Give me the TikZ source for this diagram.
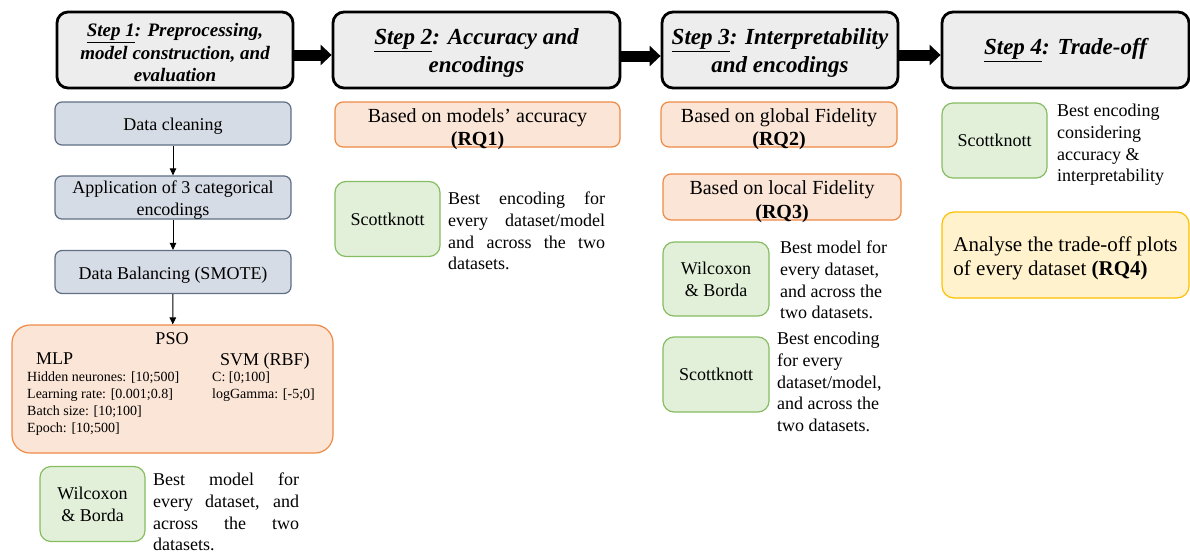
\documentclass[tikz,border=0pt]{standalone}
\usepackage{fontspec}
\setmainfont{Liberation Serif}
\usepackage{xcolor}
\usetikzlibrary{arrows.meta,positioning}

\definecolor{stepfill}{HTML}{EDEDED}
\definecolor{prepfill}{HTML}{D6DCE5}
\definecolor{prepline}{HTML}{5F6F86}
\definecolor{rqfill}{HTML}{FBE5D6}
\definecolor{rqline}{HTML}{EF8A45}
\definecolor{testfill}{HTML}{E2F0D9}
\definecolor{testline}{HTML}{86BC62}
\definecolor{tofill}{HTML}{FFF2CC}
\definecolor{toline}{HTML}{FFC000}

\newcommand{\titlefont}{\fontsize{23}{27.5}\selectfont\bfseries\itshape}
\newcommand{\titlefontsm}{\fontsize{19}{22.5}\selectfont\bfseries\itshape}
\newcommand{\bodyfont}{\fontsize{18}{21.7}\selectfont}
\newcommand{\rqfont}{\fontsize{20}{23.5}\selectfont}
\newcommand{\parfont}{\fontsize{14}{17}\selectfont}
\newcommand{\lift}[1]{\rule{0pt}{#1}}

\begin{document}
\begin{tikzpicture}[
  x=1pt, y=-1pt,
  stepbox/.style={draw, line width=2.8pt, rounded corners=11pt, fill=stepfill,
                  minimum height=76pt, inner sep=2pt, align=center, font=\titlefont},
  prep/.style={draw=prepline, fill=prepfill, line width=1.2pt, rounded corners=7pt,
               minimum width=236pt, minimum height=43pt, inner sep=0pt,
               align=center, font=\bodyfont},
  rq/.style={draw=rqline, fill=rqfill, line width=1.2pt, rounded corners=8pt,
             minimum height=45pt, inner sep=0pt, align=center, font=\rqfont,
             text height=42pt, text depth=0pt},
  test/.style={draw=testline, fill=testfill, line width=1.2pt, rounded corners=11pt,
               minimum width=105pt, minimum height=75pt, inner sep=0pt,
               align=center, font=\bodyfont},
  desc/.style={anchor=north west, inner sep=0pt, font=\bodyfont},
  param/.style={anchor=north west, inner sep=0pt, align=left, font=\parfont},
  bigarr/.style={-{Triangle[length=11pt,width=20pt]}, line width=11pt},
  arr/.style={-{Triangle[length=7pt,width=6.5pt]}, line width=0.9pt}
]
\useasboundingbox (0,0) rectangle (1190,554);

\node[stepbox, minimum width=236pt, font=\titlefontsm] (step1) at (175,50)
  {\lift{19pt}\underline{Step 1}: Preprocessing,\\ model construction, and\\ evaluation};
\node[stepbox, minimum width=287pt] (step2) at (476.5,50)
  {\lift{22pt}\underline{Step 2}: Accuracy and\\ encodings};
\node[stepbox, minimum width=236pt] (step3) at (780,50)
  {\lift{22pt}\underline{Step 3}: Interpretability\\ and encodings};
\node[stepbox, minimum width=247pt] (step4) at (1065.5,50)
  {\underline{Step 4}: Trade-off};

\draw[bigarr] ([yshift=-5pt]step1.east) -- ([yshift=-5pt]step2.west);
\draw[bigarr] ([yshift=-6pt]step2.east) -- ([yshift=-6pt]step3.west);
\draw[bigarr] ([yshift=-5pt]step3.east) -- ([yshift=-5pt]step4.west);

% step 1
\node[prep] (clean) at (173,123.5) {\lift{18.5pt}Data cleaning};
\node[prep] (enc) at (173,197.5) {\lift{17.5pt}Application of 3 categorical\\ encodings};
\node[prep] (smote) at (173,272) {\lift{18.5pt}Data Balancing (SMOTE)};

\node[rq, minimum width=321pt, minimum height=128pt, rounded corners=18pt] (pso)
  at (172.5,389) {};
\node[anchor=north, inner sep=0pt, font=\bodyfont] (psotitle) at (172,332) {PSO};
\node[anchor=north west, inner sep=0pt, font=\bodyfont] (mlp) at (36,353) {MLP};
\node[anchor=north west, inner sep=0pt, font=\bodyfont] (svm) at (220,353) {SVM (RBF)};
\node[param] (mlppar) at (27,372)
  {Hidden neurones: [10;500]\\ Learning rate: [0.001;0.8]\\ Batch size: [10;100]\\ Epoch: [10;500]};
\node[param] (svmpar) at (212,372)
  {C: [0;100]\\ logGamma: [-5;0]};

\draw[arr] (clean) -- (enc);
\draw[arr] (enc) -- (smote);
\draw[arr] (smote) -- (pso);

\node[test] (wb1) at (92.5,504) {Wilcoxon\\ \& Borda};
\node[desc, text width=146pt, align=justify] (wb1txt) at (153,473)
  {Best model for\linebreak every dataset, and\linebreak across the two\linebreak datasets.};

% step 2
\node[rq, minimum width=285pt] (rq1) at (477.5,124.5)
  {Based on models' accuracy\\ \textbf{(RQ1)}};
\node[test] (sk2) at (387.5,219) {Scottknott};
\node[desc, text width=157pt, align=justify] (sk2txt) at (448,192)
  {Best encoding for\linebreak every dataset/model\linebreak and across the two\linebreak datasets.};

% step 3
\node[rq, minimum width=236pt] (rq2) at (779,124.5)
  {Based on global Fidelity\\ \textbf{(RQ2)}};
\node[rq, minimum width=238pt, minimum height=46pt] (rq3) at (782,197)
  {Based on local Fidelity\\ \textbf{(RQ3)}};
\node[test, minimum width=106pt, minimum height=74pt] (wb3) at (716,279) {Wilcoxon\\ \& Borda};
\node[desc, align=left] (wb3txt) at (780,241)
  {Best model for\\ every dataset,\\ and across the\\ two datasets.};
\node[test, minimum width=106pt] (sk3) at (716,374.5) {Scottknott};
\node[desc, align=left] (sk3txt) at (777,332)
  {Best encoding\\ for every\\ dataset/model,\\ and across the\\ two datasets.};

% step 4
\node[test] (sk4) at (994.5,140.5) {Scottknott};
\node[desc, align=left] (sk4txt) at (1057,104)
  {Best encoding\\ considering\\ accuracy \&\\ interpretability};
\node[draw=toline, fill=tofill, line width=1.2pt, rounded corners=12pt,
      minimum width=247pt, minimum height=86pt, inner sep=0pt, align=left,
      font=\fontsize{21}{24}\selectfont] (rq4) at (1065.5,255)
  {\lift{22pt}Analyse the trade-off plots\\ of every dataset \textbf{(RQ4)}};

\end{tikzpicture}
\end{document}
